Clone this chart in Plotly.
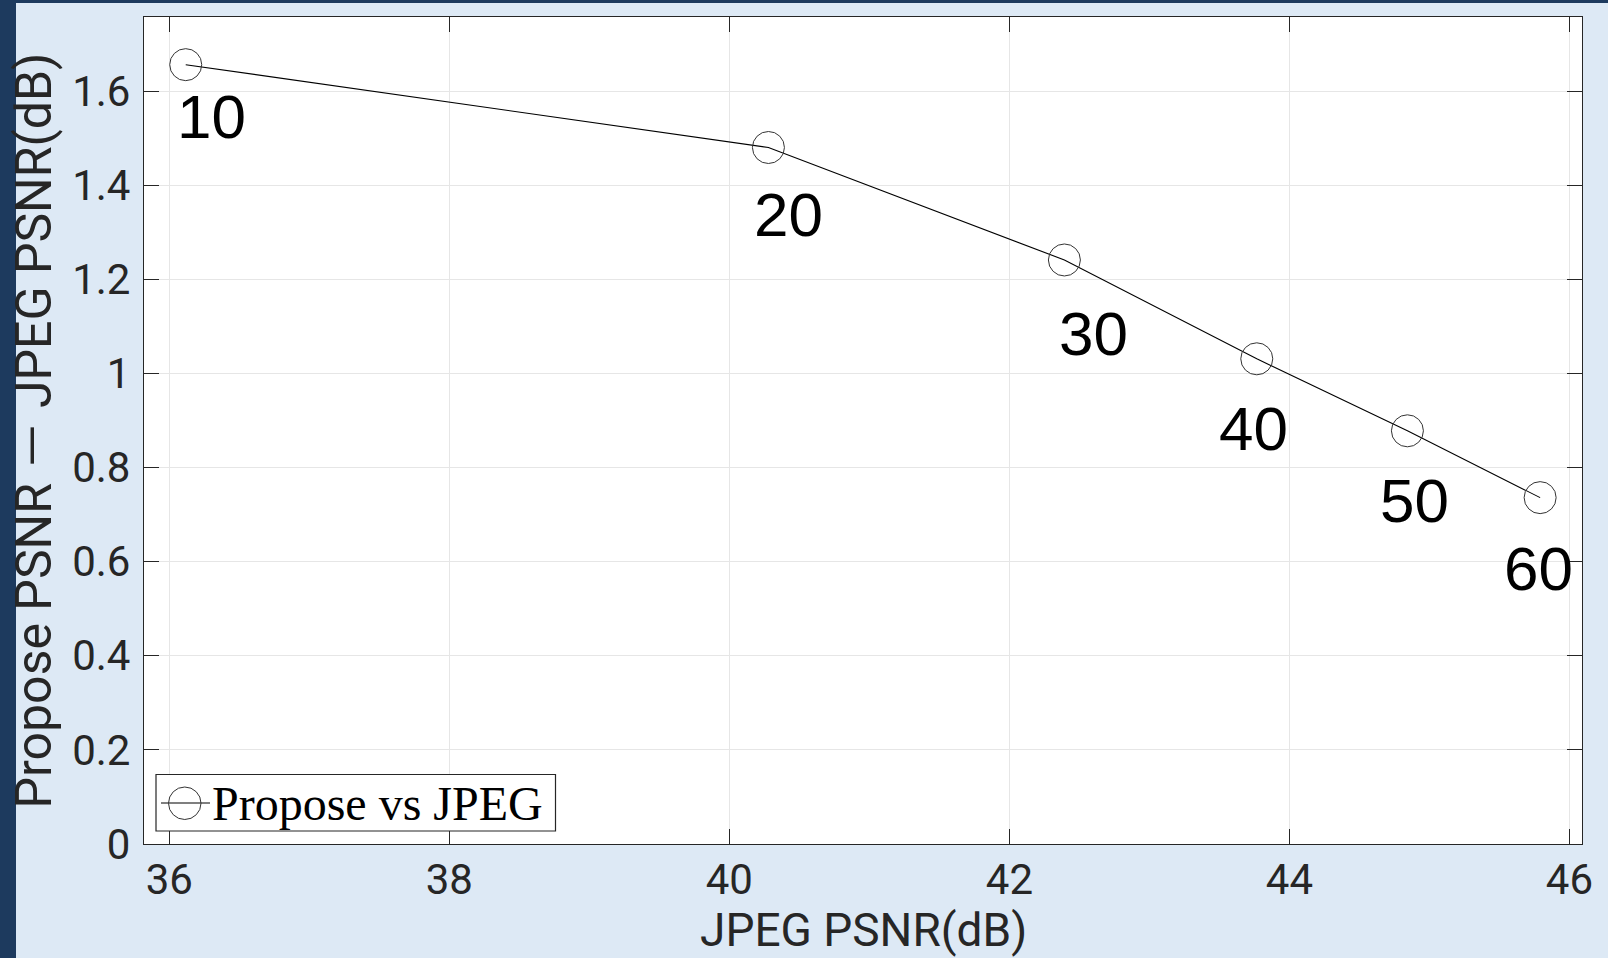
import plotly.graph_objects as go

# ---------------- data ----------------
jpeg_psnr = [36.117, 40.279, 42.393, 43.767, 44.843, 45.791]
psnr_gain = [1.656, 1.480, 1.241, 1.031, 0.878, 0.736]
quality_labels = ["10", "20", "30", "40", "50", "60"]
x_ticks = [36, 38, 40, 42, 44, 46]
y_ticks = [0, 0.2, 0.4, 0.6, 0.8, 1, 1.2, 1.4, 1.6]
y_tick_text = ["0", "0.2", "0.4", "0.6", "0.8", "1", "1.2", "1.4", "1.6"]
series_name = "Propose vs JPEG"
x_title = "JPEG PSNR(dB)"
y_title = "Propose PSNR － JPEG PSNR(dB)"

# ---------------- layout constants ----------------
W, H = 1608, 958
L, R, T, B = 144, 26, 17, 114
PW, PH = W - L - R, H - T - B
NAVY = "#1d3a5e"
LIGHT = "#dde9f5"
AX = "#262626"
SANS = "Roboto, Noto Sans CJK JP"

# label pixel offsets (style)
label_dx = [26, 20, 29, -3, 7, -2]
label_dy = [52, 67, 74, 70, 70, 71]


def px(xp):
    return (xp - L) / PW


def py(yp):
    return (H - B - yp) / PH


fig = go.Figure()
fig.add_trace(go.Scatter(
    x=jpeg_psnr, y=psnr_gain, mode="lines+markers", name=series_name,
    line=dict(color="#000000", width=1.1),
    marker=dict(symbol="circle-open", size=32, color="#333333",
                line=dict(width=1, color="#333333")),
    showlegend=False,
))

for xv, yv, lab, dx, dy in zip(jpeg_psnr, psnr_gain, quality_labels, label_dx, label_dy):
    fig.add_annotation(x=xv, y=yv, text=lab, showarrow=False,
                       xanchor="center", yanchor="middle",
                       xshift=dx, yshift=-dy,
                       font=dict(family="Liberation Sans, Arial", size=62, color="#000000"))

shapes = [
    # navy frame strips
    dict(type="rect", xref="paper", yref="paper", x0=px(0), x1=px(16), y0=py(H), y1=py(0),
         fillcolor=NAVY, line=dict(width=0), layer="below"),
    dict(type="rect", xref="paper", yref="paper", x0=px(0), x1=px(W), y0=py(3), y1=py(0),
         fillcolor=NAVY, line=dict(width=0), layer="below"),
    # legend box
    dict(type="rect", xref="paper", yref="paper", x0=px(156), x1=px(555.5), y0=py(831), y1=py(774.5),
         fillcolor="#ffffff", line=dict(width=1.2, color=AX), layer="above"),
    dict(type="line", xref="paper", yref="paper", x0=px(161), x1=px(210), y0=py(803), y1=py(803),
         line=dict(width=1.5, color="#555555"), layer="above"),
    dict(type="circle", xref="paper", yref="paper", x0=px(168.5), x1=px(201), y0=py(819.5), y1=py(787),
         line=dict(width=1, color="#333333"), layer="above"),
]
fig.add_annotation(xref="paper", yref="paper", x=px(210), y=py(803), text=series_name,
                   showarrow=False, xanchor="left", yanchor="middle",
                   font=dict(family="Liberation Serif, Times New Roman, serif", size=48, color="#000000"))

# x-axis title (placed as a paper annotation for exact position)
fig.add_annotation(xref="paper", yref="paper", x=0.5, y=py(930), text=x_title,
                   showarrow=False, xanchor="center", yanchor="middle",
                   font=dict(family=SANS, size=46, color=AX))

fig.update_layout(
    width=W, height=H,
    margin=dict(l=L, r=R, t=T, b=B, pad=0, autoexpand=False),
    paper_bgcolor=LIGHT, plot_bgcolor="#ffffff",
    shapes=shapes,
    showlegend=False,
    font=dict(family=SANS, color=AX),
)
fig.update_xaxes(
    range=[35.819, 46.09], tickvals=x_ticks, ticktext=[str(v) for v in x_ticks],
    automargin=False,
    showgrid=True, gridcolor="#e6e6e6", gridwidth=1, zeroline=False,
    showline=True, linecolor=AX, linewidth=1.3, mirror="ticks",
    ticks="inside", ticklen=15, tickwidth=1.3, tickcolor=AX,
    tickfont=dict(family=SANS, size=42, color=AX),
    ticklabelstandoff=-2,
)
fig.update_yaxes(
    range=[0, 1.7573], tickvals=y_ticks, ticktext=y_tick_text,
    automargin=False,
    showgrid=True, gridcolor="#e6e6e6", gridwidth=1, zeroline=False,
    showline=True, linecolor=AX, linewidth=1.3, mirror="ticks",
    ticks="inside", ticklen=15, tickwidth=1.3, tickcolor=AX,
    tickfont=dict(family=SANS, size=42, color=AX),
    ticklabelstandoff=4,
    title=dict(text=y_title, font=dict(family=SANS, size=50, color=AX), standoff=4),
)

fig.write_html("out.html")
